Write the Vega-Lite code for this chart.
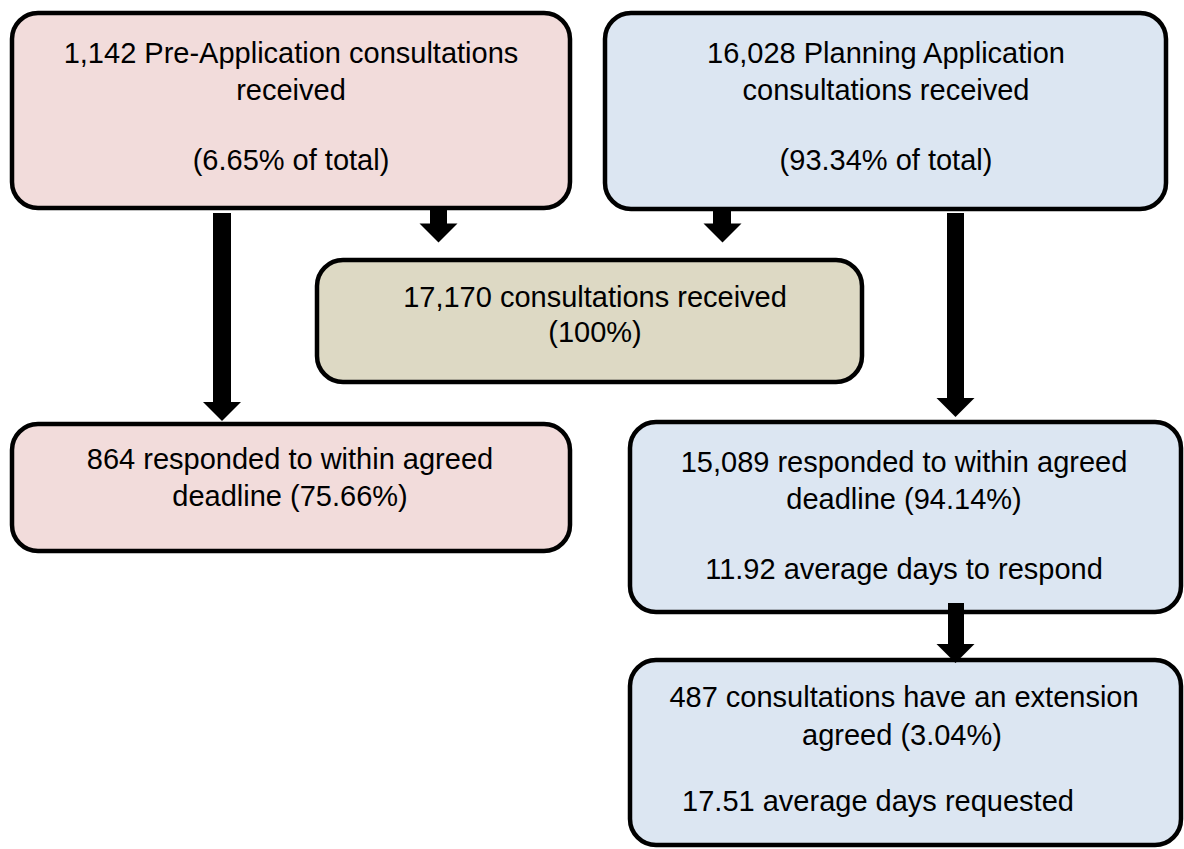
{
  "$schema": "https://vega.github.io/schema/vega-lite/v6.json",
  "width": 1184,
  "height": 849,
  "padding": 0,
  "autosize": {"type": "none"},
  "background": "white",
  "config": {"view": {"stroke": null}},
  "datasets": {
    "boxes": [
      {"box": "Pre-Application received", "kind": "pre", "x1": 12, "x2": 570, "y1": 13, "y2": 208},
      {"box": "Planning Application received", "kind": "plan", "x1": 605, "x2": 1166, "y1": 13, "y2": 209},
      {"box": "Total received", "kind": "total", "x1": 317, "x2": 862, "y1": 260, "y2": 382},
      {"box": "Pre-Application on time", "kind": "pre", "x1": 12, "x2": 570, "y1": 424, "y2": 551},
      {"box": "Planning Application on time", "kind": "plan", "x1": 630, "x2": 1181, "y1": 422, "y2": 612},
      {"box": "Extensions", "kind": "plan", "x1": 630, "x2": 1181, "y1": 660, "y2": 845}
    ],
    "shafts": [
      {"arrow": "pre to on time", "x1": 213, "x2": 231, "y1": 213, "y2": 404},
      {"arrow": "pre to total", "x1": 430, "x2": 447, "y1": 210, "y2": 225},
      {"arrow": "plan to total", "x1": 713, "x2": 731, "y1": 210, "y2": 225},
      {"arrow": "plan to on time", "x1": 947, "x2": 964, "y1": 213, "y2": 400},
      {"arrow": "on time to extensions", "x1": 948, "x2": 964, "y1": 603, "y2": 647}
    ],
    "heads": [
      {"arrow": "pre to on time", "x": 222, "y": 411.5},
      {"arrow": "pre to total", "x": 438.5, "y": 233},
      {"arrow": "plan to total", "x": 722.5, "y": 233},
      {"arrow": "plan to on time", "x": 955.5, "y": 407.5},
      {"arrow": "on time to extensions", "x": 955.5, "y": 653.5}
    ],
    "labels": [
      {"text": "1,142 Pre-Application consultations", "x": 291, "y": 63},
      {"text": "received", "x": 291, "y": 100},
      {"text": "(6.65% of total)", "x": 291, "y": 170},
      {"text": "16,028 Planning Application", "x": 886, "y": 63},
      {"text": "consultations received", "x": 886, "y": 100},
      {"text": "(93.34% of total)", "x": 886, "y": 170},
      {"text": "17,170 consultations received", "x": 595, "y": 307},
      {"text": "(100%)", "x": 595, "y": 342},
      {"text": "864 responded to within agreed", "x": 290, "y": 469},
      {"text": "deadline (75.66%)", "x": 290, "y": 506},
      {"text": "15,089 responded to within agreed", "x": 904, "y": 472},
      {"text": "deadline (94.14%)", "x": 904, "y": 509},
      {"text": "11.92 average days to respond", "x": 904, "y": 579},
      {"text": "487 consultations have an extension", "x": 904, "y": 707},
      {"text": "agreed (3.04%)", "x": 902, "y": 745},
      {"text": "17.51 average days requested", "x": 878, "y": 811}
    ]
  },
  "layer": [
    {
      "data": {"name": "boxes"},
      "mark": {"type": "rect", "cornerRadius": 26, "stroke": "#000000", "strokeWidth": 4.5},
      "encoding": {
        "x": {"field": "x1", "type": "quantitative", "scale": {"domain": [0, 1184], "nice": false, "zero": false}, "axis": null},
        "x2": {"field": "x2"},
        "y": {"field": "y1", "type": "quantitative", "scale": {"domain": [0, 849], "reverse": true, "nice": false, "zero": false}, "axis": null},
        "y2": {"field": "y2"},
        "color": {"field": "kind", "type": "nominal", "scale": {"domain": ["pre", "plan", "total"], "range": ["#F2DCDB", "#DCE6F2", "#DDD9C4"]}, "legend": null}
      }
    },
    {
      "data": {"name": "shafts"},
      "mark": {"type": "rect", "color": "#000000"},
      "encoding": {
        "x": {"field": "x1", "type": "quantitative", "scale": {"domain": [0, 1184], "nice": false, "zero": false}, "axis": null},
        "x2": {"field": "x2"},
        "y": {"field": "y1", "type": "quantitative", "scale": {"domain": [0, 849], "reverse": true, "nice": false, "zero": false}, "axis": null},
        "y2": {"field": "y2"}
      }
    },
    {
      "data": {"name": "heads"},
      "mark": {"type": "point", "shape": "M-1,-0.5L1,-0.5L0,0.5Z", "filled": true, "color": "#000000", "opacity": 1, "size": 1444, "strokeWidth": 0},
      "encoding": {
        "x": {"field": "x", "type": "quantitative", "scale": {"domain": [0, 1184], "nice": false, "zero": false}, "axis": null},
        "y": {"field": "y", "type": "quantitative", "scale": {"domain": [0, 849], "reverse": true, "nice": false, "zero": false}, "axis": null}
      }
    },
    {
      "data": {"name": "labels"},
      "mark": {"type": "text", "font": "Liberation Sans", "fontSize": 29, "baseline": "alphabetic", "align": "center", "color": "#000000"},
      "encoding": {
        "x": {"field": "x", "type": "quantitative", "scale": {"domain": [0, 1184], "nice": false, "zero": false}, "axis": null},
        "y": {"field": "y", "type": "quantitative", "scale": {"domain": [0, 849], "reverse": true, "nice": false, "zero": false}, "axis": null},
        "text": {"field": "text", "type": "nominal"}
      }
    }
  ]
}
